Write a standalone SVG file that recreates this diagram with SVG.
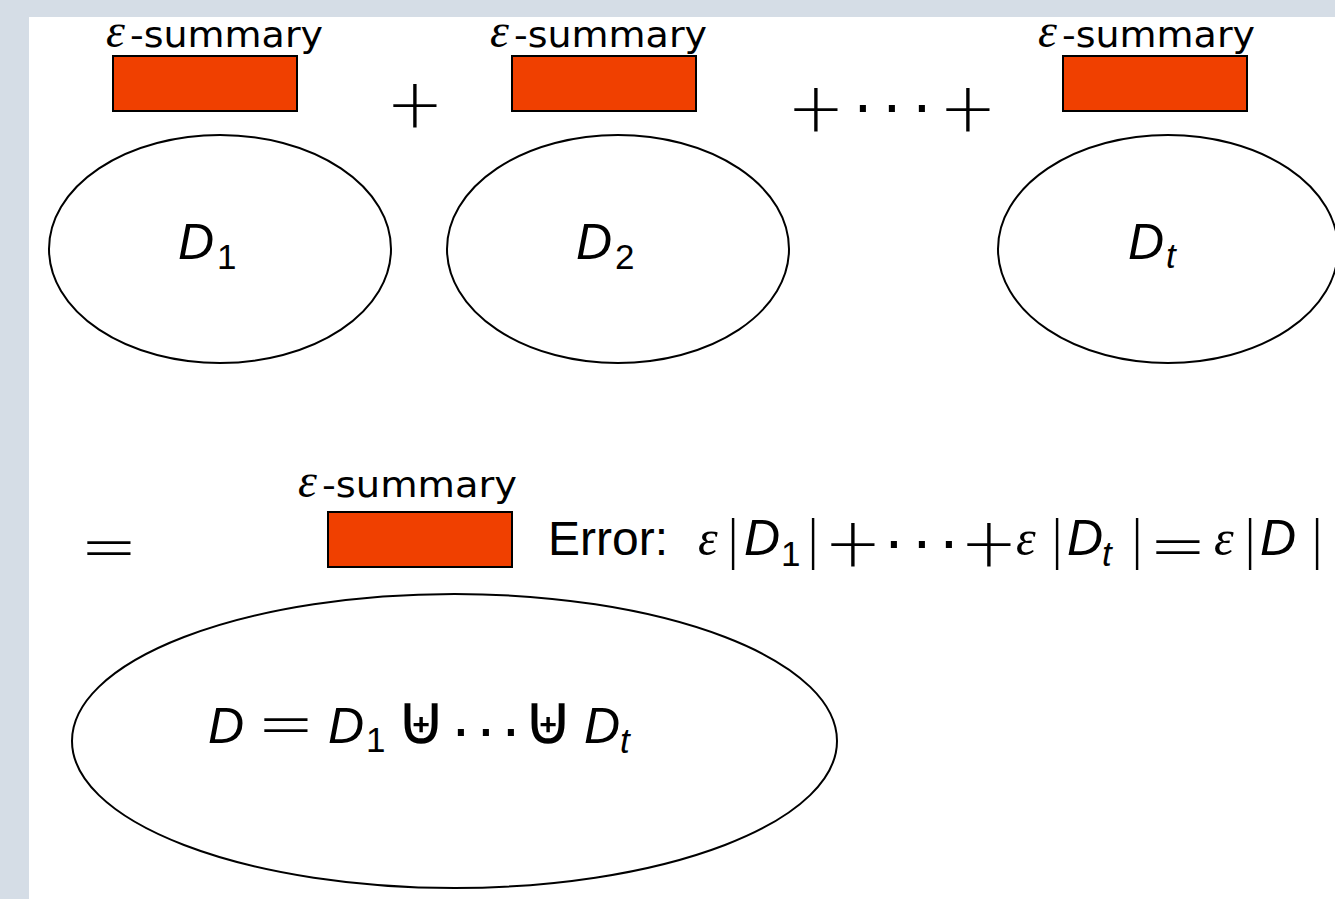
<svg xmlns="http://www.w3.org/2000/svg" width="1335" height="899" viewBox="0 0 1335 899">
<style>
.bg{fill:#d5dde6}
.sum{fill:#f04000;stroke:#000;stroke-width:2}
.ell{fill:none;stroke:#000;stroke-width:2}
.lab{font-family:"DejaVu Sans",sans-serif;font-size:35px;fill:#000}
.eps{font-family:"Liberation Serif",serif;font-style:italic;fill:#000}
.mi{font-family:"Liberation Sans",sans-serif;font-style:italic;font-size:50px;fill:#000}
.sub{font-family:"Liberation Sans",sans-serif;font-size:35px;fill:#000}
.op{font-family:"DejaVu Sans",sans-serif;font-weight:200;font-size:69px;fill:#000;text-anchor:middle}
.dot{font-family:"Liberation Sans",sans-serif;font-size:64px;fill:#000;text-anchor:middle}
.bar{font-family:"DejaVu Sans",sans-serif;font-weight:200;font-size:52px;fill:#000;text-anchor:middle}
.uplus{font-family:"DejaVu Sans",sans-serif;font-size:70px;fill:#000;text-anchor:middle}
.txt{font-family:"Liberation Sans",sans-serif;font-size:48px;fill:#000}
</style>
<rect x="0" y="0" width="1335" height="899" fill="#ffffff"/>
<rect class="bg" x="0" y="0" width="1335" height="17"/>
<rect class="bg" x="0" y="0" width="29" height="899"/>

<g id="summary1">
<text class="eps" x="106" y="47" font-size="48">ε</text>
<text class="lab" x="130" y="47" textLength="193" lengthAdjust="spacingAndGlyphs">-summary</text>
<rect class="sum" x="113" y="56" width="184" height="55"/>
</g>
<g id="summary2">
<text class="eps" x="490" y="47" font-size="48">ε</text>
<text class="lab" x="514" y="47" textLength="193" lengthAdjust="spacingAndGlyphs">-summary</text>
<rect class="sum" x="512" y="56" width="184" height="55"/>
</g>
<g id="summary3">
<text class="eps" x="1038" y="47" font-size="48">ε</text>
<text class="lab" x="1062" y="47" textLength="193" lengthAdjust="spacingAndGlyphs">-summary</text>
<rect class="sum" x="1063" y="56" width="184" height="55"/>
</g>

<g id="D1">
<ellipse class="ell" cx="220" cy="249" rx="171" ry="114"/>
<text class="mi" x="178" y="259">D</text>
<text class="sub" x="217" y="269">1</text>
</g>
<g id="D2">
<ellipse class="ell" cx="618" cy="249" rx="171" ry="114"/>
<text class="mi" x="576" y="259">D</text>
<text class="sub" x="615" y="269">2</text>
</g>
<g id="Dt">
<ellipse class="ell" cx="1168" cy="249" rx="170" ry="114"/>
<text class="mi" x="1128" y="259">D</text>
<text class="sub" x="1166" y="268" font-style="italic">t</text>
</g>

<g id="plus-top">
<text class="op" x="415" y="127">+</text>
<text class="op" x="816" y="131">+</text>
<text class="dot" x="863" y="126">·</text>
<text class="dot" x="892" y="126">·</text>
<text class="dot" x="922" y="126">·</text>
<text class="op" x="968" y="131">+</text>
</g>

<g id="equals-left">
<text class="op" x="109" y="570">=</text>
</g>

<g id="summaryD">
<text class="eps" x="298" y="497" font-size="48">ε</text>
<text class="lab" x="322" y="497" textLength="195" lengthAdjust="spacingAndGlyphs">-summary</text>
<rect class="sum" x="328" y="512" width="184" height="55"/>
</g>

<g id="error">
<text class="txt" x="548" y="555">Error:</text>
<text class="eps" x="698" y="555" font-size="50">ε</text>
<text class="bar" x="733" y="557">|</text>
<text class="mi" x="744" y="555" font-size="48">D</text>
<text class="sub" x="781" y="566" font-size="34">1</text>
<text class="bar" x="813" y="557">|</text>
<text class="op" x="853" y="566" font-size="60">+</text>
<text class="dot" x="894" y="562">·</text>
<text class="dot" x="922" y="562">·</text>
<text class="dot" x="949" y="562">·</text>
<text class="op" x="989" y="566" font-size="60">+</text>
<text class="eps" x="1016" y="555" font-size="50">ε</text>
<text class="bar" x="1057" y="557">|</text>
<text class="mi" x="1067" y="555" font-size="48">D</text>
<text class="sub" x="1102" y="566" font-size="34" font-style="italic">t</text>
<text class="bar" x="1137" y="557">|</text>
<text class="op" x="1178" y="569" font-size="67">=</text>
<text class="eps" x="1214" y="555" font-size="50">ε</text>
<text class="bar" x="1250" y="557">|</text>
<text class="mi" x="1260" y="555" font-size="48">D</text>
<text class="bar" x="1317" y="557">|</text>
</g>

<g id="D">
<ellipse class="ell" cx="454.5" cy="741" rx="382.5" ry="147"/>
<text class="mi" x="208" y="743">D</text>
<text class="op" x="286" y="747" font-size="58">=</text>
<text class="mi" x="328" y="743">D</text>
<text class="sub" x="366" y="752">1</text>
<text class="uplus" x="421" y="744">⊎</text>
<text class="dot" x="461" y="750">·</text>
<text class="dot" x="486" y="750">·</text>
<text class="dot" x="511" y="750">·</text>
<text class="uplus" x="548" y="744">⊎</text>
<text class="mi" x="584" y="743">D</text>
<text class="sub" x="620" y="753" font-style="italic">t</text>
</g>
</svg>
